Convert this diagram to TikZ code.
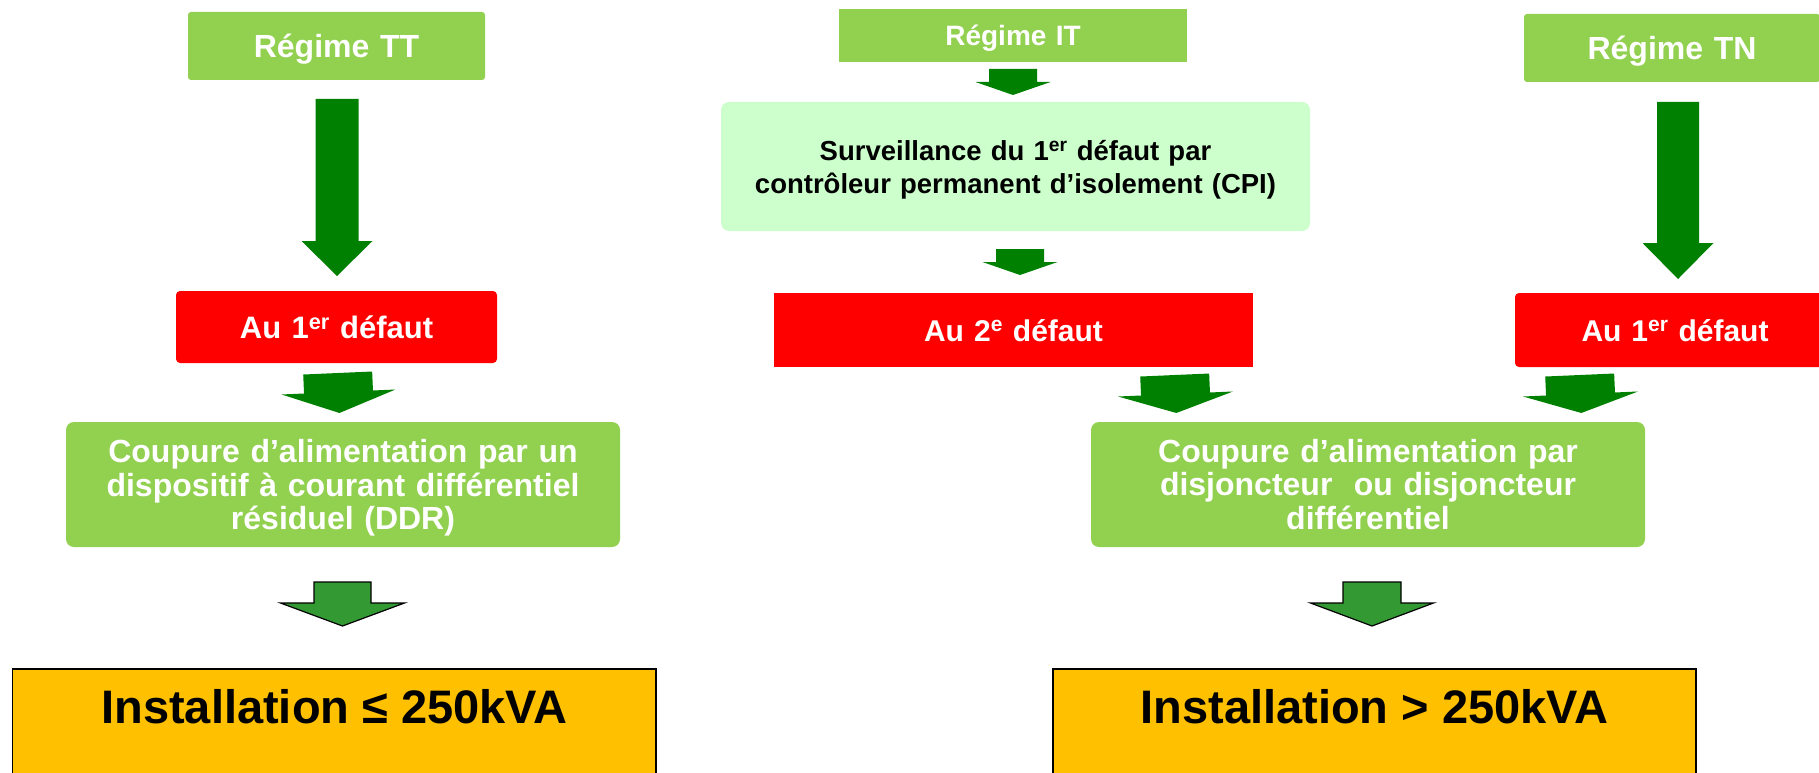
\documentclass[tikz,border=0pt]{standalone}
\usepackage{fontspec}
\setmainfont{Liberation Sans}
\definecolor{lgreen}{HTML}{92D050}
\definecolor{pgreen}{HTML}{CCFFCC}
\definecolor{dgreen}{HTML}{008000}
\definecolor{mgreen}{HTML}{339933}
\definecolor{orng}{HTML}{FFC000}
\definecolor{rred}{HTML}{FF0000}
\newcommand{\fsz}[2]{\fontsize{#1}{#2}\selectfont\bfseries}
% block arrow: [style]{cx}{shaft top}{shaft half w}{head top}{head half w}{tip}
\newcommand{\blockarrow}[7][]{%
  \path[#1] ({#2-#4},#3) -- ({#2+#4},#3) -- ({#2+#4},#5) -- ({#2+#6},#5)
    -- (#2,#7) -- ({#2-#6},#5) -- ({#2-#4},#5) -- cycle;}
\tikzset{
  box/.style={inner sep=0pt, align=center, text width=#1, text depth=0pt},
  mtext/.style={inner sep=0pt, align=center, text width=#1},
  gbox/.style={fill=lgreen, text=white},
  rbox/.style={fill=rred, text=white},
  sbox/.style={fill=pgreen, text=black},
  obox/.style={fill=orng, draw=black, line width=1.5pt},
  darr/.style={fill=dgreen},
  oarr/.style={fill=mgreen, draw=black, line width=1.2pt, line join=miter},
}
\begin{document}
\begin{tikzpicture}[x=1pt,y=-1pt]
\useasboundingbox (0,0) rectangle (1819,773);
\clip (0,0) rectangle (1819,773);

% ---------- TT column
\node[gbox, box=297pt, rounded corners=3pt, minimum height=68pt, font=\fsz{32}{34}] (tt) at (336.5,46) {Régime TT};
\node[rbox, box=321pt, rounded corners=4pt, minimum height=72pt, font=\fsz{31}{34}] (tt1) at (336.5,327) {Au 1\textsuperscript{er} défaut};
\node[gbox, minimum width=554pt, rounded corners=8pt, minimum height=125pt, inner sep=0pt] (ttc) at (343,484.5) {};
\node[mtext=554pt, text=white, font=\fsz{32}{33.5}] (ttct) at ([yshift=-3.5pt]ttc.center)
  {Coupure d’alimentation par un\\dispositif à courant différentiel\\résiduel (DDR)};
\node[obox, minimum width=643.5pt, minimum height=140pt, anchor=north] (tti) at (334.25,668) {};
\node[font=\fsz{47}{49}] (ttit) at (334.5,707) {Installation ≤ 250kVA};

\blockarrow[darr]{337}{99}{21.5}{241}{35.5}{276}
\begin{scope}[rotate around={2.5:(338.5,392)}]
\blockarrow[darr]{338.5}{373}{34.5}{392}{57}{413}
\end{scope}
\blockarrow[oarr]{342.5}{582}{28.5}{603}{62}{626}

% ---------- IT column
\node[gbox, box=348pt, minimum height=53pt, font=\fsz{28}{30}] (it) at (1013,35.5) {Régime IT};
\node[sbox, minimum width=589pt, rounded corners=8pt, minimum height=129pt, inner sep=0pt] (itc) at (1015.5,166.5) {};
\node[mtext=589pt, text=black, font=\fsz{27.5}{33}] (itct) at ([yshift=-3pt]itc.center)
  {Surveillance du 1\textsuperscript{er} défaut par\\contrôleur permanent d’isolement (CPI)};
\node[rbox, box=479pt, minimum height=74pt, font=\fsz{30}{32}] (it2) at (1013.5,330) {Au 2\textsuperscript{e} défaut};
\blockarrow[darr]{1013}{69}{24}{82}{37.5}{95}
\blockarrow[darr]{1020}{249}{24}{262}{37.5}{275}

% ---------- TN column
\node[gbox, box=296pt, rounded corners=3pt, minimum height=68pt, font=\fsz{32}{34}] (tn) at (1672,48) {Régime TN};
\node[rbox, box=320pt, rounded corners=4pt, minimum height=74pt, font=\fsz{30}{32}] (tn1) at (1675,330) {Au 1\textsuperscript{er} défaut};
\blockarrow[darr]{1678}{102}{21}{243}{35.5}{279}

% ---------- common right
\node[gbox, minimum width=554pt, rounded corners=8pt, minimum height=125pt, inner sep=0pt] (rc) at (1368,484.5) {};
\node[mtext=554pt, text=white, font=\fsz{32}{33.5}] (rct) at (rc.center)
  {Coupure d’alimentation par\\disjoncteur \ ou disjoncteur\\différentiel};
\node[obox, minimum width=643pt, minimum height=140pt, anchor=north] (ri) at (1374.5,668) {};
\node[font=\fsz{47}{49}] (rit) at (1374.5,707) {Installation > 250kVA};

\begin{scope}[rotate around={2.5:(1175.5,394)}]
\blockarrow[darr]{1175.5}{375}{34.5}{394}{57.5}{413}
\end{scope}
\begin{scope}[rotate around={2.5:(1580.5,394)}]
\blockarrow[darr]{1580.5}{375}{34.5}{394}{57.5}{413}
\end{scope}
\blockarrow[oarr]{1372}{582}{29}{603}{61.5}{626}
\end{tikzpicture}
\end{document}
